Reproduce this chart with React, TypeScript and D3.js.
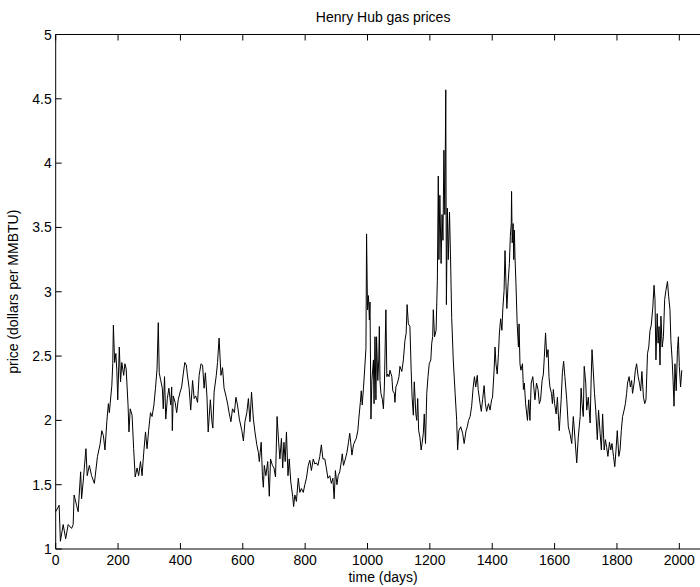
import React from "react";
import * as d3 from "d3";

// Henry Hub spot price series, sampled along the trading-day axis
const days: number[] = [
  0, 11, 15, 24, 32, 40, 51, 56, 59, 67, 72, 80, 83, 88, 97, 101, 108, 115, 124, 134,
  142, 148, 153, 158, 164, 169, 172, 180, 183, 185, 189, 193, 196, 199, 204, 208, 212, 218, 222, 226,
  232, 235, 239, 245, 250, 255, 261, 266, 272, 277, 282, 288, 293, 298, 304, 309, 315, 320, 325, 329,
  332, 336, 342, 345, 349, 353, 358, 363, 369, 372, 374, 377, 383, 388, 393, 399, 404, 409, 414, 419,
  422, 428, 433, 439, 444, 449, 455, 460, 466, 471, 476, 480, 485, 489, 496, 501, 504, 508, 515, 519,
  524, 530, 535, 540, 547, 552, 556, 562, 567, 573, 578, 583, 589, 597, 602, 607, 613, 618, 623, 628,
  634, 639, 645, 650, 653, 659, 663, 666, 669, 674, 680, 685, 689, 695, 700, 705, 710, 715, 719, 724,
  728, 732, 736, 740, 745, 749, 754, 760, 763, 767, 772, 778, 783, 788, 794, 799, 804, 810, 815, 820,
  826, 831, 836, 841, 847, 852, 857, 863, 868, 873, 879, 884, 889, 893, 897, 902, 906, 911, 916, 919,
  923, 929, 934, 939, 943, 946, 950, 955, 960, 964, 969, 972, 977, 980, 983, 987, 991, 995, 997, 1000,
  1003, 1006, 1008, 1011, 1014, 1019, 1021, 1024, 1027, 1029, 1033, 1036, 1038, 1040, 1043, 1048, 1051, 1054, 1059, 1062,
  1065, 1069, 1072, 1078, 1081, 1086, 1088, 1091, 1096, 1101, 1104, 1110, 1115, 1120, 1124, 1127, 1131, 1136, 1140, 1143,
  1147, 1150, 1155, 1158, 1161, 1164, 1168, 1172, 1175, 1179, 1182, 1186, 1190, 1194, 1198, 1203, 1206, 1209, 1211, 1215,
  1220, 1224, 1227, 1229, 1232, 1236, 1239, 1242, 1245, 1248, 1251, 1253, 1256, 1259, 1263, 1266, 1270, 1275, 1281, 1286,
  1289, 1293, 1299, 1305, 1310, 1316, 1320, 1324, 1329, 1334, 1339, 1343, 1347, 1352, 1355, 1361, 1365, 1369, 1374, 1378,
  1382, 1388, 1393, 1398, 1401, 1406, 1409, 1412, 1416, 1420, 1423, 1427, 1431, 1434, 1438, 1441, 1444, 1447, 1451, 1455,
  1458, 1461, 1462, 1464, 1467, 1469, 1471, 1473, 1476, 1480, 1484, 1486, 1489, 1492, 1497, 1500, 1503, 1507, 1513, 1517,
  1521, 1525, 1530, 1534, 1537, 1542, 1547, 1551, 1555, 1560, 1564, 1567, 1571, 1575, 1579, 1582, 1585, 1590, 1593, 1596,
  1600, 1605, 1609, 1613, 1615, 1621, 1625, 1629, 1633, 1639, 1644, 1650, 1655, 1660, 1665, 1671, 1676, 1682, 1685, 1688,
  1692, 1695, 1700, 1703, 1708, 1714, 1717, 1720, 1723, 1728, 1732, 1737, 1741, 1746, 1750, 1754, 1759, 1763, 1767, 1771,
  1776, 1780, 1784, 1789, 1793, 1797, 1801, 1806, 1810, 1814, 1818, 1823, 1827, 1831, 1834, 1839, 1843, 1847, 1850, 1855,
  1859, 1863, 1868, 1872, 1876, 1880, 1885, 1889, 1893, 1898, 1902, 1906, 1910, 1915, 1919, 1922, 1925, 1929, 1932, 1935,
  1938, 1941, 1945, 1949, 1953, 1957, 1962, 1966, 1970, 1973, 1977, 1980, 1983, 1986, 1990, 1994, 1997, 2000, 2004, 2008,
];

const prices: number[] = [
  1.29, 1.34, 1.06, 1.19, 1.08, 1.19, 1.16, 1.19, 1.42, 1.34, 1.29, 1.60, 1.39, 1.52, 1.78, 1.57, 1.65, 1.57, 1.51, 1.72,
  1.81, 1.92, 1.88, 1.77, 1.99, 2.13, 2.06, 2.27, 2.44, 2.74, 2.45, 2.52, 2.39, 2.16, 2.57, 2.30, 2.45, 2.35, 2.44, 2.40,
  2.12, 1.91, 2.09, 2.04, 1.78, 1.56, 1.63, 1.57, 1.68, 1.57, 1.74, 1.91, 1.78, 1.92, 2.06, 2.03, 2.12, 2.25, 2.40, 2.76,
  2.37, 2.32, 2.25, 2.09, 2.34, 2.01, 2.17, 2.25, 2.12, 2.26, 1.92, 2.19, 2.14, 2.06, 2.16, 2.22, 2.26, 2.36, 2.45, 2.43,
  2.36, 2.25, 2.08, 2.31, 2.17, 2.19, 2.14, 2.35, 2.44, 2.43, 2.25, 2.37, 2.19, 1.91, 2.16, 1.99, 1.94, 2.22, 2.35, 2.45,
  2.64, 2.35, 2.41, 2.25, 2.18, 2.12, 2.06, 1.99, 2.09, 2.06, 2.18, 2.12, 2.01, 1.92, 1.84, 1.99, 2.06, 2.17, 1.99, 2.22,
  2.01, 1.91, 1.81, 1.75, 1.68, 1.83, 1.57, 1.48, 1.65, 1.57, 1.68, 1.41, 1.70, 1.65, 1.63, 1.56, 2.03, 1.83, 1.70, 1.86,
  1.63, 1.83, 1.68, 1.91, 1.57, 1.70, 1.52, 1.41, 1.33, 1.42, 1.37, 1.55, 1.44, 1.47, 1.44, 1.50, 1.55, 1.65, 1.69, 1.61,
  1.70, 1.66, 1.67, 1.65, 1.72, 1.81, 1.70, 1.70, 1.63, 1.55, 1.57, 1.51, 1.55, 1.39, 1.61, 1.50, 1.57, 1.60, 1.68, 1.74,
  1.65, 1.70, 1.75, 1.83, 1.90, 1.83, 1.73, 1.81, 1.84, 1.86, 1.92, 2.01, 2.14, 2.23, 2.12, 2.25, 2.40, 2.56, 3.45, 2.86,
  2.97, 2.78, 2.92, 2.01, 2.31, 2.47, 2.13, 2.65, 2.16, 2.65, 2.31, 2.47, 2.73, 2.31, 2.21, 2.16, 2.09, 2.26, 2.86, 2.34,
  2.36, 2.34, 2.39, 2.34, 2.23, 2.21, 2.14, 2.26, 2.29, 2.34, 2.42, 2.38, 2.47, 2.62, 2.68, 2.90, 2.75, 2.73, 2.39, 2.18,
  2.04, 2.30, 2.05, 2.00, 2.17, 1.92, 1.87, 1.77, 1.82, 1.90, 2.05, 1.82, 2.21, 2.34, 2.44, 2.47, 2.60, 2.65, 2.86, 2.65,
  2.70, 3.09, 3.90, 3.25, 3.75, 3.22, 3.60, 3.40, 4.10, 3.60, 4.57, 2.90, 3.65, 3.25, 3.62, 3.30, 2.80, 2.47, 2.21, 2.00,
  1.77, 1.92, 1.95, 1.90, 1.82, 1.92, 1.95, 2.00, 2.03, 2.11, 2.26, 2.34, 2.26, 2.35, 2.24, 2.13, 2.07, 2.16, 2.27, 2.13,
  2.07, 2.13, 2.08, 2.16, 2.18, 2.39, 2.57, 2.44, 2.36, 2.52, 2.68, 2.79, 2.70, 2.87, 3.01, 3.32, 3.07, 2.87, 3.07, 3.22,
  3.43, 3.53, 3.78, 3.38, 3.53, 3.25, 3.48, 3.27, 3.07, 2.75, 2.57, 2.75, 2.44, 2.39, 2.44, 2.24, 2.29, 2.13, 2.00, 2.16,
  2.00, 2.29, 2.34, 2.24, 2.16, 2.29, 2.24, 2.13, 2.16, 2.31, 2.36, 2.49, 2.68, 2.49, 2.55, 2.34, 2.26, 2.21, 2.13, 2.24,
  2.13, 2.05, 2.18, 2.00, 1.92, 2.16, 2.37, 2.46, 2.34, 2.16, 1.95, 1.89, 1.82, 2.03, 1.87, 1.67, 1.87, 2.03, 2.25, 2.13,
  2.03, 2.42, 2.29, 2.08, 2.18, 1.98, 2.29, 2.55, 2.43, 2.21, 2.08, 1.85, 2.08, 1.90, 1.77, 2.05, 1.77, 1.85, 1.79, 1.72,
  1.83, 1.77, 1.82, 1.72, 1.64, 1.77, 1.92, 1.72, 1.77, 1.92, 2.03, 2.08, 2.13, 2.21, 2.29, 2.34, 2.26, 2.31, 2.21, 2.29,
  2.39, 2.44, 2.34, 2.29, 2.23, 2.38, 2.18, 2.13, 2.16, 2.52, 2.57, 2.70, 2.74, 2.88, 3.05, 2.94, 2.47, 2.83, 2.60, 2.73,
  2.43, 2.81, 2.57, 2.65, 2.94, 3.01, 3.08, 2.96, 2.86, 2.62, 2.47, 2.31, 2.11, 2.44, 2.23, 2.55, 2.65, 2.42, 2.26, 2.39,
];

const xTicks: number[] = [0, 200, 400, 600, 800, 1000, 1200, 1400, 1600, 1800, 2000];
const yTicks: number[] = [1, 1.5, 2, 2.5, 3, 3.5, 4, 4.5, 5];

const titleText = "Henry Hub gas prices";
const xLabelText = "time  (days)";
const yLabelText = "price (dollars per MMBTU)";

const W = 700;
const H = 587;
const FONT = "'Liberation Sans', Arial, Helvetica, sans-serif";
const FS = 14;

export default function App() {
  const x = d3.scaleLinear().domain([0, 2100]).range([55.7, 710.5]);
  const y = d3.scaleLinear().domain([1, 5]).range([549, 34.5]);
  const [x0, x1] = x.range();
  const [yb, yt] = y.range();
  const tickLen = 6;

  const pts: [number, number][] = days.map((d, i) => [d, prices[i]]);
  const line = d3
    .line<[number, number]>()
    .x((d) => x(d[0]))
    .y((d) => y(d[1]));

  return (
    <div style={{ position: "absolute", left: 0, top: 0, width: W, height: H, background: "#fff" }}>
      <svg width={W} height={H} style={{ display: "block" }} fontFamily={FONT}>
        <rect width={W} height={H} fill="#fff" />
        <path d={line(pts) ?? ""} fill="none" stroke="#000" strokeWidth={1} strokeLinejoin="round" />

        {/* axes box (right edge lies past the visible area) */}
        <line x1={x0} x2={x1} y1={yb} y2={yb} stroke="#000" strokeWidth={1} />
        <line x1={x0} x2={x1} y1={yt} y2={yt} stroke="#000" strokeWidth={1} />
        <line x1={x0} x2={x0} y1={yb} y2={yt} stroke="#000" strokeWidth={1} />

        {xTicks.map((t) => (
          <g key={`xt${t}`}>
            <line x1={x(t)} x2={x(t)} y1={yb} y2={yb - tickLen} stroke="#000" strokeWidth={1} />
            <line x1={x(t)} x2={x(t)} y1={yt} y2={yt + tickLen} stroke="#000" strokeWidth={1} />
            <text x={x(t)} y={yb + 16} fontSize={FS} textAnchor="middle" fill="#000">
              {t}
            </text>
          </g>
        ))}

        {yTicks.map((t) => (
          <g key={`yt${t}`}>
            <line x1={x0} x2={x0 + tickLen} y1={y(t)} y2={y(t)} stroke="#000" strokeWidth={1} />
            <text x={x0 - 4} y={y(t) + 5} fontSize={FS} textAnchor="end" fill="#000">
              {t}
            </text>
          </g>
        ))}

        <text x={(x0 + x1) / 2} y={22} fontSize={FS} textAnchor="middle" fill="#000">
          {titleText}
        </text>
        <text x={(x0 + x1) / 2} y={582} fontSize={FS} textAnchor="middle" fill="#000">
          {xLabelText}
        </text>
        <text
          transform={`translate(18, ${(yb + yt) / 2}) rotate(-90)`}
          fontSize={FS}
          textAnchor="middle"
          fill="#000"
        >
          {yLabelText}
        </text>
      </svg>
    </div>
  );
}
